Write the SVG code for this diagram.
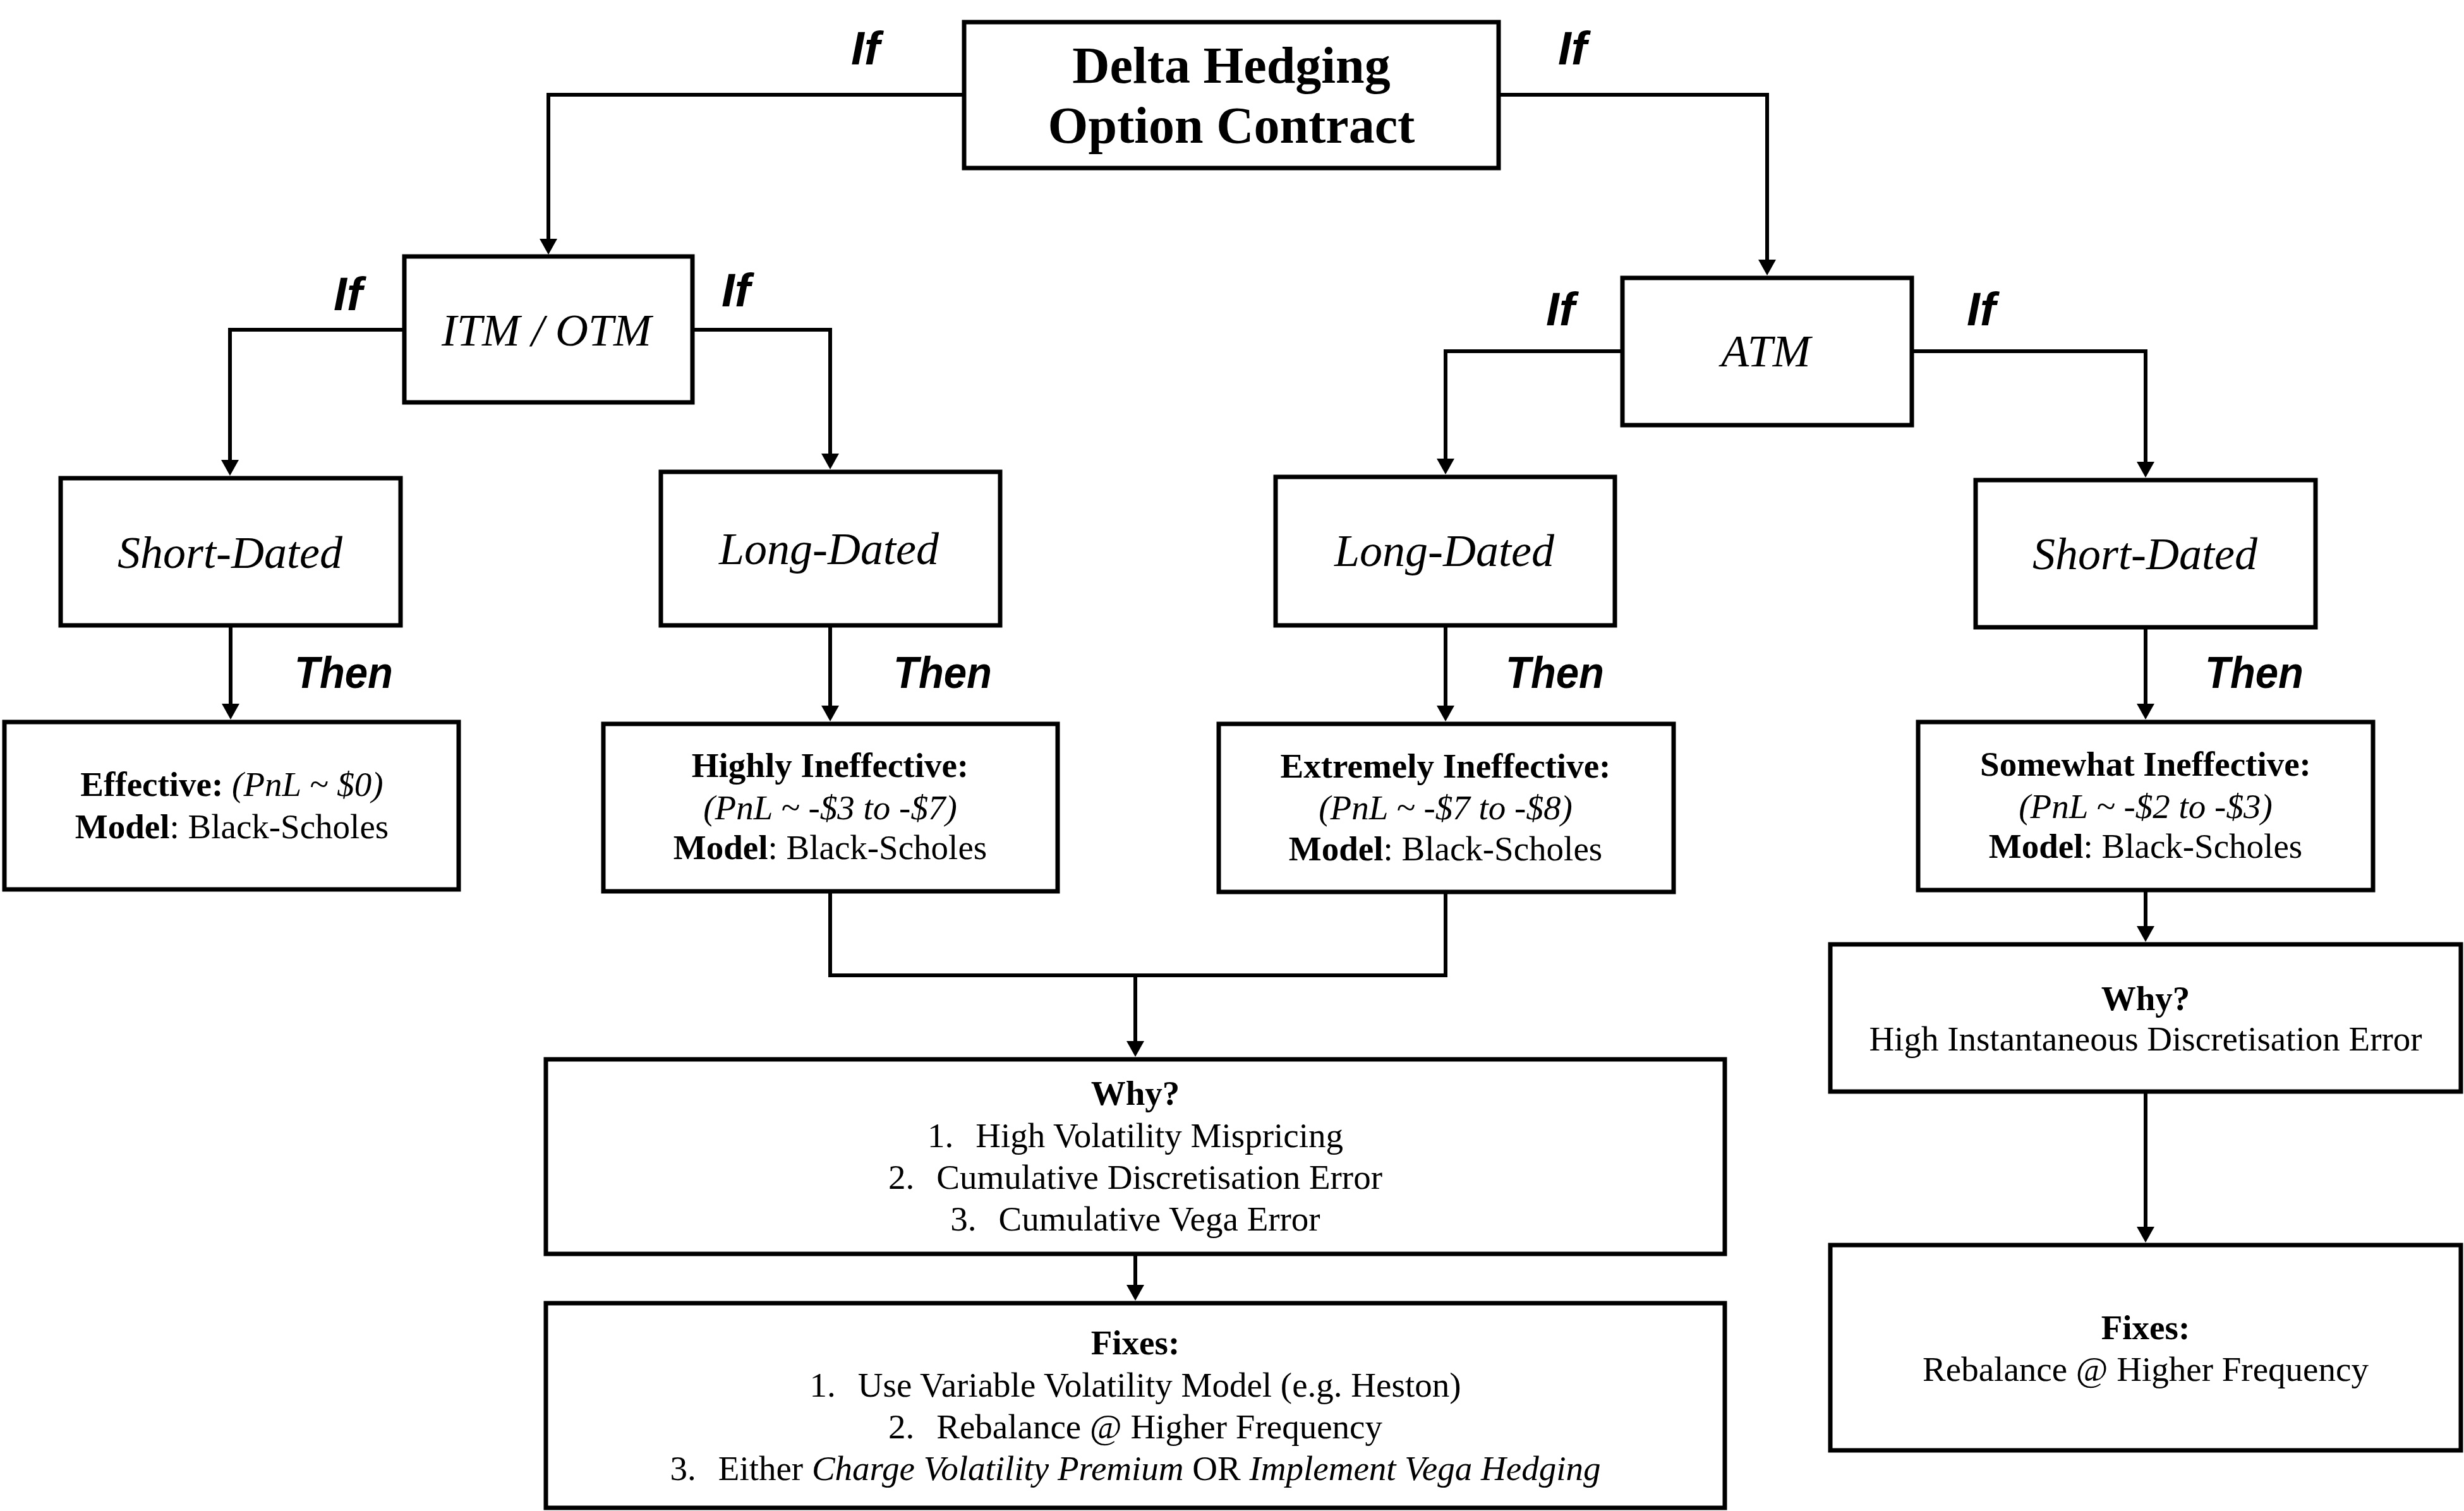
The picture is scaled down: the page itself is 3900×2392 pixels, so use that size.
<svg xmlns="http://www.w3.org/2000/svg" width="3900" height="2392" viewBox="0 0 3900 2392">
<defs>
<style>
.box{fill:#fff;stroke:#000;stroke-width:7}
.con{fill:none;stroke:#000;stroke-width:6}
.arr{marker-end:url(#ah)}
.t{font-family:"Liberation Serif","Times New Roman",serif;fill:#000;text-anchor:middle}
.title{font-size:82px;font-weight:bold}
.node{font-size:72px;font-style:italic}
.body{font-size:55px}
.b{font-weight:bold}
.i{font-style:italic}
.lbl{font-family:"Liberation Sans",Arial,sans-serif;font-weight:bold;font-style:italic;fill:#000}
.if{font-size:75px}
.then{font-size:70px}
</style>
<marker id="ah" markerUnits="userSpaceOnUse" markerWidth="26" markerHeight="28" refX="0" refY="14" orient="auto" overflow="visible">
<path d="M0,0 L25,14 L0,28 z" fill="#000"/>
</marker>
</defs>
<rect width="3900" height="2392" fill="#fff"/>

<g id="connectors">
<path class="con arr" d="M1526,150 H868 V378"/>
<path class="con arr" d="M2372,150 H2797 V411"/>
<path class="con arr" d="M640,522 H364 V728"/>
<path class="con arr" d="M1096,522 H1314 V718"/>
<path class="con arr" d="M2568,556 H2288 V726"/>
<path class="con arr" d="M3026,556 H3396 V731"/>
<path class="con arr" d="M365,990 V1114"/>
<path class="con arr" d="M1314,990 V1117"/>
<path class="con arr" d="M2288,990 V1117"/>
<path class="con arr" d="M3396,993 V1114"/>
<path class="con" d="M1314,1411 V1544 H2288 V1412"/>
<path class="con arr" d="M1797,1544 V1648"/>
<path class="con arr" d="M1797,1985 V2034"/>
<path class="con arr" d="M3396,1409 V1466"/>
<path class="con arr" d="M3396,1728 V1942"/>
</g>

<g id="labels">
<text class="lbl if" x="1347" y="102">If</text>
<text class="lbl if" x="2466" y="102">If</text>
<text class="lbl if" x="528" y="491">If</text>
<text class="lbl if" x="1142" y="485">If</text>
<text class="lbl if" x="2447" y="515">If</text>
<text class="lbl if" x="3113" y="515">If</text>
<text class="lbl then" x="466" y="1089" textLength="156" lengthAdjust="spacingAndGlyphs">Then</text>
<text class="lbl then" x="1414" y="1089" textLength="156" lengthAdjust="spacingAndGlyphs">Then</text>
<text class="lbl then" x="2383" y="1089" textLength="156" lengthAdjust="spacingAndGlyphs">Then</text>
<text class="lbl then" x="3490" y="1089" textLength="156" lengthAdjust="spacingAndGlyphs">Then</text>
</g>

<g id="root">
<rect class="box" x="1526" y="35" width="846" height="231"/>
<text class="t title" x="1949" y="131">Delta Hedging</text>
<text class="t title" x="1949" y="226">Option Contract</text>
</g>

<g id="itm-otm">
<rect class="box" x="640" y="406" width="456" height="231"/>
<text class="t node" x="865" y="547">ITM / OTM</text>
</g>

<g id="atm">
<rect class="box" x="2568" y="440" width="458" height="233"/>
<text class="t node" x="2795" y="580">ATM</text>
</g>

<g id="itm-short">
<rect class="box" x="96" y="757" width="538" height="233"/>
<text class="t node" x="364" y="899">Short-Dated</text>
</g>

<g id="itm-long">
<rect class="box" x="1046" y="747" width="537" height="243"/>
<text class="t node" x="1312" y="893">Long-Dated</text>
</g>

<g id="atm-long">
<rect class="box" x="2019" y="755" width="537" height="235"/>
<text class="t node" x="2286" y="896">Long-Dated</text>
</g>

<g id="atm-short">
<rect class="box" x="3127" y="760" width="538" height="233"/>
<text class="t node" x="3395" y="901">Short-Dated</text>
</g>

<g id="effective">
<rect class="box" x="7" y="1143" width="719" height="265"/>
<text class="t body" x="367" y="1260"><tspan class="b">Effective:</tspan> <tspan class="i">(PnL ~ $0)</tspan></text>
<text class="t body" x="367" y="1327"><tspan class="b">Model</tspan>: Black-Scholes</text>
</g>

<g id="highly-ineffective">
<rect class="box" x="955" y="1146" width="719" height="265"/>
<text class="t body b" x="1314" y="1230">Highly Ineffective:</text>
<text class="t body i" x="1314" y="1297">(PnL ~ -$3 to -$7)</text>
<text class="t body" x="1314" y="1360"><tspan class="b">Model</tspan>: Black-Scholes</text>
</g>

<g id="extremely-ineffective">
<rect class="box" x="1929" y="1146" width="720" height="266"/>
<text class="t body b" x="2288" y="1231">Extremely Ineffective:</text>
<text class="t body i" x="2288" y="1297">(PnL ~ -$7 to -$8)</text>
<text class="t body" x="2288" y="1362"><tspan class="b">Model</tspan>: Black-Scholes</text>
</g>

<g id="somewhat-ineffective">
<rect class="box" x="3036" y="1143" width="720" height="266"/>
<text class="t body b" x="3396" y="1228">Somewhat Ineffective:</text>
<text class="t body i" x="3396" y="1295">(PnL ~ -$2 to -$3)</text>
<text class="t body" x="3396" y="1358"><tspan class="b">Model</tspan>: Black-Scholes</text>
</g>

<g id="why-long">
<rect class="box" x="864" y="1677" width="1866" height="308"/>
<text class="t body b" x="1797" y="1749">Why?</text>
<text class="t body" x="1797" y="1816">1.<tspan dx="35">High Volatility Mispricing</tspan></text>
<text class="t body" x="1797" y="1882">2.<tspan dx="35">Cumulative Discretisation Error</tspan></text>
<text class="t body" x="1797" y="1948">3.<tspan dx="35">Cumulative Vega Error</tspan></text>
</g>

<g id="fixes-long">
<rect class="box" x="864" y="2063" width="1866" height="324"/>
<text class="t body b" x="1797" y="2144">Fixes:</text>
<text class="t body" x="1797" y="2211">1.<tspan dx="35">Use Variable Volatility Model (e.g. Heston)</tspan></text>
<text class="t body" x="1797" y="2277">2.<tspan dx="35">Rebalance @ Higher Frequency</tspan></text>
<text class="t body" x="1797" y="2343">3.<tspan dx="35">Either </tspan><tspan class="i">Charge Volatility Premium</tspan> OR <tspan class="i">Implement Vega Hedging</tspan></text>
</g>

<g id="why-short">
<rect class="box" x="2897" y="1495" width="998" height="233"/>
<text class="t body b" x="3396" y="1599">Why?</text>
<text class="t body" x="3396" y="1663">High Instantaneous Discretisation Error</text>
</g>

<g id="fixes-short">
<rect class="box" x="2897" y="1971" width="998" height="325"/>
<text class="t body b" x="3396" y="2120">Fixes:</text>
<text class="t body" x="3396" y="2186">Rebalance @ Higher Frequency</text>
</g>
</svg>
